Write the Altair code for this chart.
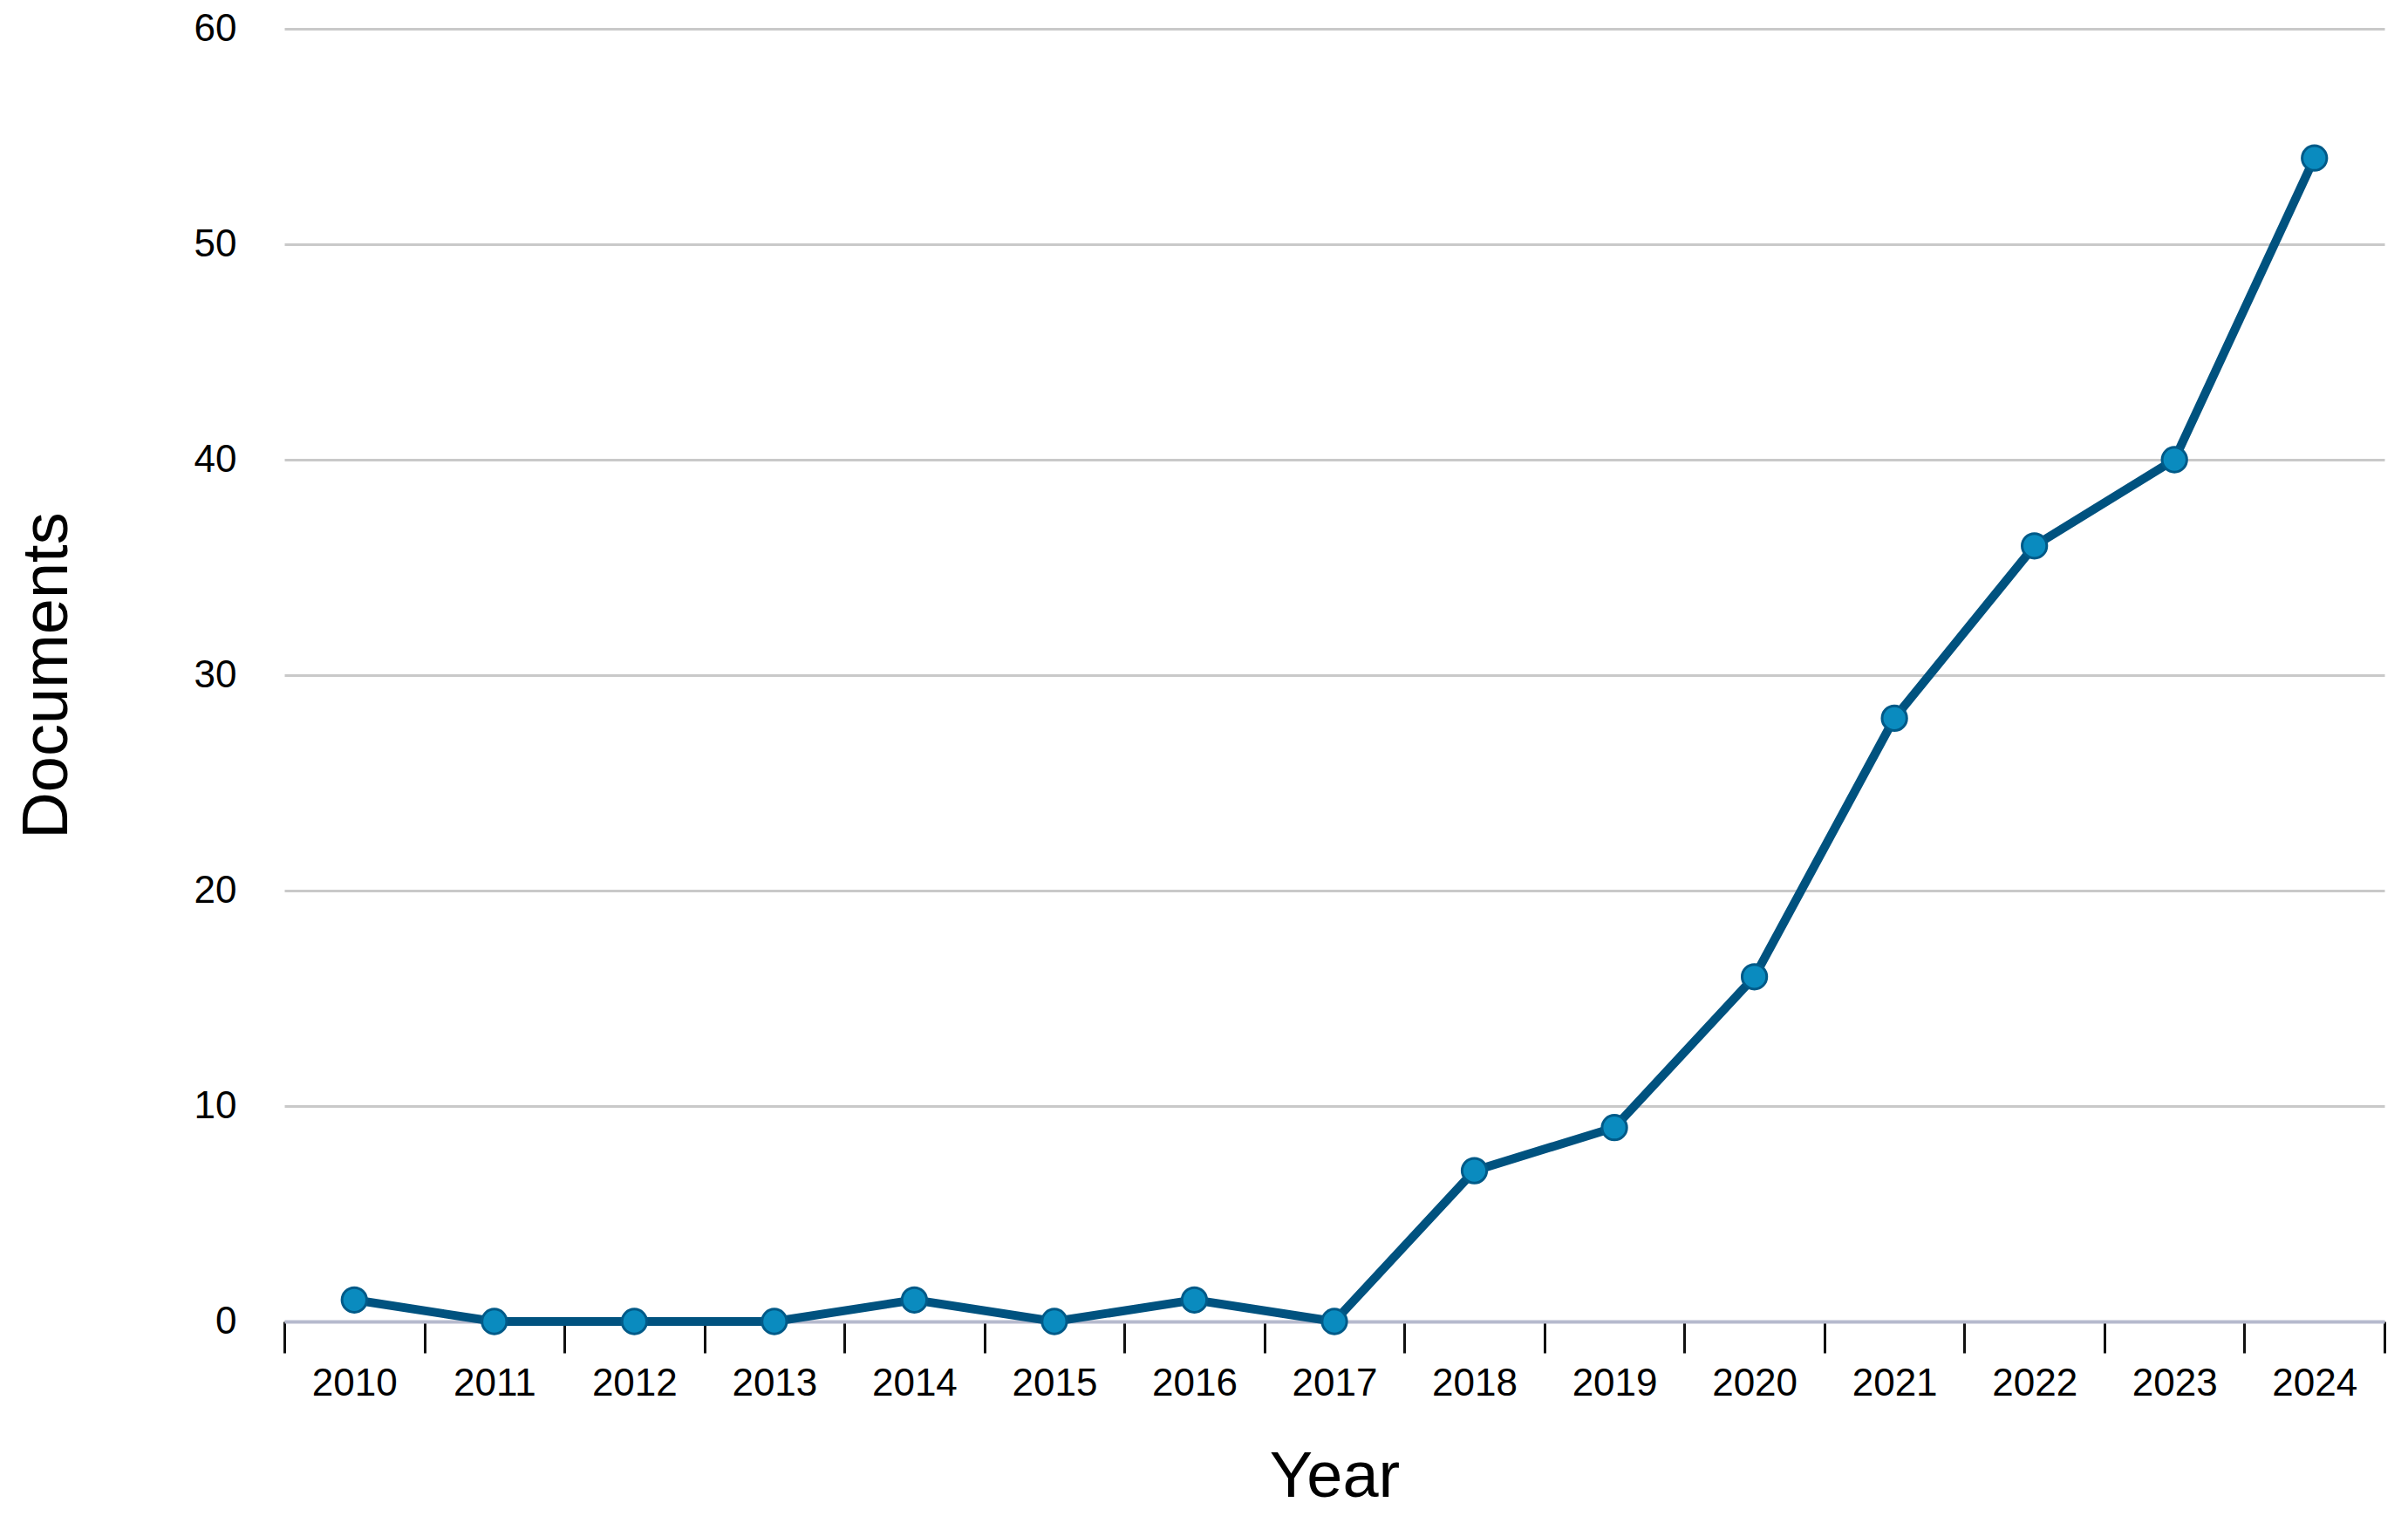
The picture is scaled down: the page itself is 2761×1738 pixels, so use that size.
import altair as alt
import pandas as pd

years = ["2010", "2011", "2012", "2013", "2014", "2015", "2016", "2017",
         "2018", "2019", "2020", "2021", "2022", "2023", "2024"]
documents = [1, 0, 0, 0, 1, 0, 1, 0, 7, 9, 16, 28, 36, 40, 54]
y_ticks = [0, 10, 20, 30, 40, 50, 60]

df = pd.DataFrame({"Year": years, "Documents": documents})

FONT = "Liberation Sans"

x_enc = alt.X(
    "Year:O",
    bandPosition=0.5,
    scale=alt.Scale(type="band", paddingInner=0, paddingOuter=0),
    axis=alt.Axis(
        title="Year",
        labelAngle=0,
        tickBand="extent",
        tickSize=36,
        tickWidth=3,
        tickColor="#111111",
        domainColor="#b6bacd",
        domainWidth=4,
        labelFontSize=44,
        labelFont=FONT,
        labelColor="#000000",
        labelPadding=13,
        titleFontSize=74,
        titleFont=FONT,
        titleFontWeight="normal",
        titleColor="#000000",
        titlePadding=49,
        grid=False,
    ),
)

y_enc = alt.Y(
    "Documents:Q",
    scale=alt.Scale(domain=[0, 60], nice=False),
    axis=alt.Axis(
        title="Documents",
        values=y_ticks,
        domain=False,
        ticks=False,
        tickSize=0,
        labelPadding=55,
        labelFontSize=44,
        labelFont=FONT,
        labelColor="#000000",
        titleFontSize=74,
        titleFont=FONT,
        titleFontWeight="normal",
        titleColor="#000000",
        titlePadding=130,
        gridColor="#c9c9c9",
        gridWidth=3,
    ),
)

base = alt.Chart(df).encode(x=x_enc, y=y_enc)

line = base.mark_line(color="#00527f", strokeWidth=10)
points = base.mark_point(
    filled=True, size=800, fill="#0a8bbf", stroke="#005a88",
    strokeWidth=3, opacity=1,
)

chart = (
    (line + points)
    .properties(
        width=2408, height=1482,
        padding={"left": 9, "top": 3, "right": 5, "bottom": 5},
        background="white",
    )
    .configure_view(stroke=None)
)

chart.save("out.html", embed_options={"renderer": "svg", "actions": False})
